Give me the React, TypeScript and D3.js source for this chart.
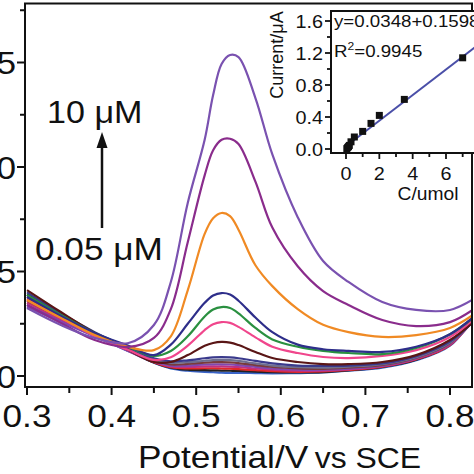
import React from 'react';
import * as d3 from 'd3';

// Potential grid (V vs SCE) at which each DPV trace was read
const potentials = [0.30, 0.34, 0.38, 0.42, 0.45, 0.47, 0.49, 0.51, 0.52, 0.53, 0.54, 0.55, 0.57, 0.59, 0.62, 0.65, 0.68, 0.72, 0.76, 0.80, 0.83];

// Current traces (µA), lowest concentration first
const trace01 = [0.34, 0.265, 0.19, 0.118, 0.063, 0.036, 0.025, 0.02, 0.018, 0.016, 0.015, 0.015, 0.014, 0.013, 0.014, 0.017, 0.025, 0.04, 0.075, 0.145, 0.29];
const trace02 = [0.39, 0.295, 0.205, 0.125, 0.065, 0.04, 0.03, 0.028, 0.027, 0.026, 0.025, 0.024, 0.021, 0.018, 0.017, 0.019, 0.027, 0.043, 0.078, 0.15, 0.30];
const trace03 = [0.37, 0.28, 0.20, 0.122, 0.066, 0.042, 0.036, 0.037, 0.037, 0.036, 0.035, 0.033, 0.028, 0.023, 0.02, 0.022, 0.029, 0.045, 0.08, 0.148, 0.29];
const trace04 = [0.35, 0.27, 0.195, 0.12, 0.068, 0.046, 0.043, 0.046, 0.046, 0.046, 0.045, 0.043, 0.036, 0.03, 0.025, 0.026, 0.032, 0.047, 0.082, 0.15, 0.28];
const trace05 = [0.33, 0.26, 0.19, 0.12, 0.07, 0.05, 0.05, 0.055, 0.056, 0.056, 0.055, 0.052, 0.044, 0.036, 0.03, 0.03, 0.035, 0.05, 0.085, 0.155, 0.285];
const trace06 = [0.36, 0.28, 0.20, 0.125, 0.075, 0.055, 0.058, 0.064, 0.066, 0.066, 0.065, 0.062, 0.052, 0.043, 0.036, 0.034, 0.04, 0.053, 0.088, 0.158, 0.28];
const trace07 = [0.38, 0.29, 0.205, 0.13, 0.08, 0.063, 0.066, 0.073, 0.076, 0.077, 0.076, 0.072, 0.06, 0.05, 0.042, 0.04, 0.045, 0.057, 0.09, 0.16, 0.275];
const trace08 = [0.40, 0.30, 0.21, 0.135, 0.085, 0.07, 0.075, 0.085, 0.089, 0.09, 0.089, 0.085, 0.072, 0.06, 0.05, 0.048, 0.05, 0.06, 0.095, 0.165, 0.27];
const trace09 = [0.411, 0.306, 0.206, 0.124, 0.067, 0.067, 0.10, 0.145, 0.158, 0.163, 0.16, 0.148, 0.115, 0.086, 0.067, 0.057, 0.057, 0.067, 0.10, 0.172, 0.268];
const trace10 = [0.364, 0.278, 0.191, 0.124, 0.077, 0.09, 0.145, 0.22, 0.248, 0.258, 0.254, 0.235, 0.185, 0.14, 0.11, 0.091, 0.086, 0.096, 0.124, 0.187, 0.278];
const trace11 = [0.388, 0.292, 0.206, 0.139, 0.096, 0.12, 0.19, 0.285, 0.318, 0.33, 0.325, 0.30, 0.23, 0.175, 0.14, 0.12, 0.11, 0.105, 0.134, 0.20, 0.287];
const trace12 = [0.378, 0.287, 0.206, 0.144, 0.10, 0.15, 0.25, 0.35, 0.385, 0.397, 0.39, 0.36, 0.28, 0.21, 0.15, 0.128, 0.12, 0.115, 0.14, 0.20, 0.29];
const trace13 = [0.364, 0.278, 0.196, 0.139, 0.124, 0.19, 0.41, 0.68, 0.755, 0.78, 0.765, 0.70, 0.53, 0.43, 0.32, 0.245, 0.21, 0.187, 0.196, 0.23, 0.30];
const trace14 = [0.34, 0.254, 0.172, 0.139, 0.182, 0.32, 0.64, 0.96, 1.08, 1.13, 1.135, 1.11, 0.93, 0.71, 0.525, 0.406, 0.34, 0.268, 0.239, 0.258, 0.325];
const trace15 = [0.325, 0.244, 0.182, 0.158, 0.244, 0.45, 0.828, 1.13, 1.344, 1.493, 1.536, 1.526, 1.33, 1.06, 0.76, 0.55, 0.45, 0.354, 0.316, 0.316, 0.373];

const traces = [trace01, trace02, trace03, trace04, trace05, trace06, trace07, trace08, trace09, trace10, trace11, trace12, trace13, trace14, trace15];
const traceColors = ['#3a64c8', '#222222', '#e02828', '#c03080', '#8048b0', '#7a3a3a', '#6e6e8e', '#3a3a8c', '#5a1616', '#f0468c', '#2a9040', '#2e2e8a', '#f08a24', '#8a2c8c', '#7a52b0'];

const xTicks = [0.3, 0.4, 0.5, 0.6, 0.7, 0.8];
const xMinorTicks = [0.35, 0.45, 0.55, 0.65, 0.75];
const yTicks = [0, 0.5, 1.0, 1.5];
const yMinorTicks = [0.25, 0.75, 1.25, 1.75];

// Inset calibration data
const insetConc = [0.05, 0.1, 0.15, 0.2, 0.3, 0.5, 1.0, 1.5, 2.0, 3.5, 7.0];
const insetCurrent = [0.005, 0.02, 0.03, 0.045, 0.09, 0.15, 0.22, 0.32, 0.42, 0.62, 1.14];
const insetXTicks = [0, 2, 4, 6];
const insetXMinor = [1, 3, 5, 7];
const insetYTicks = [0, 0.4, 0.8, 1.2, 1.6];
const insetYMinor = [0.2, 0.6, 1.0, 1.4];
const fitIntercept = 0.0348;
const fitSlope = 0.1598;
const fitRange = [0, 9];

const FONT = '"Liberation Sans", Arial, Helvetica, sans-serif';
const SX = 1.1;

function T({ x, y, size, anchor = 'start', children }: any) {
  return (
    <g transform={`translate(${x},${y}) scale(${SX},1)`}>
      <text textAnchor={anchor} fontSize={size} fontFamily={FONT} fill="#111">{children}</text>
    </g>
  );
}

export default function App() {
  const W = 474, H = 474;
  const left = 25, right = 472, top = 3.5, bottom = 387;
  const x = d3.scaleLinear().domain([0.3, 0.8]).range([27, 450]);
  const y = d3.scaleLinear().domain([0, 1.5]).range([376, 62.5]);
  const line = d3.line<number>()
    .x((_, i) => x(potentials[i]))
    .y((d) => y(d))
    .curve(d3.curveCatmullRom.alpha(0.5));

  // inset
  const iL = 331, iT = 11, iB = 153, iR = 492;
  const ix = d3.scaleLinear().domain([0, 6]).range([346, 446]);
  const iy = d3.scaleLinear().domain([0, 1.6]).range([149, 21]);

  const fmt1 = d3.format('.1f');

  return (
    <svg width={W} height={H} style={{ position: 'absolute', left: 0, top: 0, background: '#fff' }}>
      <rect x={0} y={0} width={W} height={H} fill="#fff" />
      <defs>
        <clipPath id="plotClip">
          <rect x={left} y={top} width={right - left} height={bottom - top} />
        </clipPath>
      </defs>

      {/* traces */}
      <g clipPath="url(#plotClip)">
        {traces.map((t, i) => (
          <path key={i} d={line(t) || ''} fill="none" stroke={traceColors[i]} strokeWidth={2.2} />
        ))}
      </g>

      {/* frame */}
      <rect x={left} y={top} width={right - left} height={bottom - top} fill="none" stroke="#111" strokeWidth={2} />

      {/* x axis ticks */}
      {xTicks.map((t) => (
        <g key={'xt' + t}>
          <line x1={x(t)} x2={x(t)} y1={bottom} y2={bottom + 8} stroke="#111" strokeWidth={2} />
          <T x={x(t)} y={427} size={32} anchor="middle">{fmt1(t)}</T>
        </g>
      ))}
      {xMinorTicks.map((t) => (
        <line key={'xm' + t} x1={x(t)} x2={x(t)} y1={bottom} y2={bottom + 6} stroke="#111" strokeWidth={2} />
      ))}

      {/* y axis ticks */}
      {yTicks.map((t) => (
        <g key={'yt' + t}>
          <line x1={left - 8} x2={left} y1={y(t)} y2={y(t)} stroke="#111" strokeWidth={2} />
          <T x={16} y={y(t) + 11.5} size={32} anchor="end">{fmt1(t)}</T>
        </g>
      ))}
      {yMinorTicks.map((t) => (
        <line key={'ym' + t} x1={left - 5} x2={left} y1={y(t)} y2={y(t)} stroke="#111" strokeWidth={2} />
      ))}

      {/* axis title */}
      <g transform={`translate(138,468) scale(${SX},1)`}>
        <text fontFamily={FONT} fill="#111">
          <tspan fontSize={32}>Potential/V</tspan>
          <tspan fontSize={29} dx={6}>vs SCE</tspan>
        </text>
      </g>

      {/* concentration annotation */}
      <T x={47} y={123} size={31}>10 μM</T>
      <T x={35} y={260} size={32}>0.05 μM</T>
      <line x1={102} x2={102} y1={228} y2={145} stroke="#111" strokeWidth={2.5} />
      <path d="M102,132 L96.5,148 L107.5,148 Z" fill="#111" />

      {/* inset */}
      <rect x={iL} y={iT} width={iR - iL} height={iB - iT} fill="#fff" stroke="#111" strokeWidth={2} />
      <line
        x1={ix(fitRange[0])} y1={iy(fitIntercept + fitSlope * fitRange[0])}
        x2={ix(fitRange[1])} y2={iy(fitIntercept + fitSlope * fitRange[1])}
        stroke="#4a4fa8" strokeWidth={2}
      />
      {insetConc.map((c, i) => (
        <rect key={'pt' + i} x={ix(c) - 3.5} y={iy(insetCurrent[i]) - 3.5} width={7} height={7} fill="#111" />
      ))}
      {insetXTicks.map((t) => (
        <g key={'ixt' + t}>
          <line x1={ix(t)} x2={ix(t)} y1={iB} y2={iB + 6} stroke="#111" strokeWidth={1.8} />
          <T x={ix(t)} y={180} size={18} anchor="middle">{String(t)}</T>
        </g>
      ))}
      {insetXMinor.map((t) => (
        <line key={'ixm' + t} x1={ix(t)} x2={ix(t)} y1={iB} y2={iB + 4} stroke="#111" strokeWidth={1.8} />
      ))}
      {insetYTicks.map((t) => (
        <g key={'iyt' + t}>
          <line x1={iL - 6} x2={iL} y1={iy(t)} y2={iy(t)} stroke="#111" strokeWidth={1.8} />
          <T x={323} y={iy(t) + 6.5} size={18} anchor="end">{fmt1(t)}</T>
        </g>
      ))}
      {insetYMinor.map((t) => (
        <line key={'iym' + t} x1={iL - 4} x2={iL} y1={iy(t)} y2={iy(t)} stroke="#111" strokeWidth={1.8} />
      ))}
      <T x={428} y={200} size={17.5} anchor="middle">C/umol</T>
      <g transform="translate(283,55) rotate(-90)">
        <text textAnchor="middle" fontSize={18} fontFamily={FONT} fill="#111">Current/μA</text>
      </g>
      <T x={334} y={27} size={17}>y=0.0348+0.1598x</T>
      <g transform={`translate(334,57) scale(${SX},1)`}>
        <text fontSize={17} fontFamily={FONT} fill="#111">
          R<tspan fontSize={11} dy={-7}>2</tspan><tspan dy={7}>=0.9945</tspan>
        </text>
      </g>
    </svg>
  );
}
